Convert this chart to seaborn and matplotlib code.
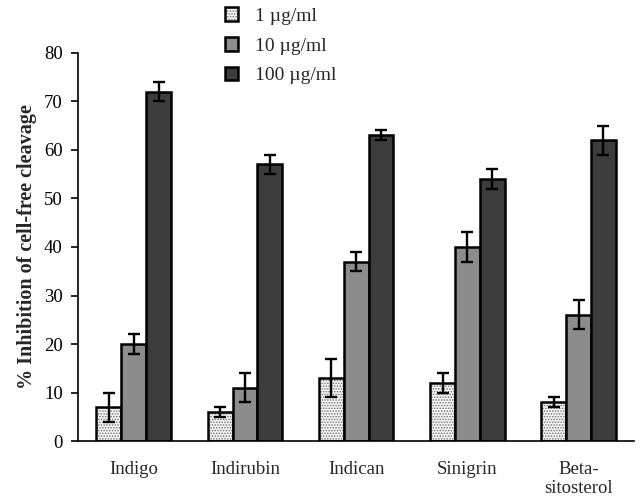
import numpy as np
import pandas as pd
import matplotlib
matplotlib.use("Agg")
import matplotlib.pyplot as plt
import matplotlib.colors as mcolors
from matplotlib.patches import Patch
import seaborn as sns

compounds = ["Indigo", "Indirubin", "Indican", "Sinigrin", "Beta-\nsitosterol"]
doses = ["1 \u00b5g/ml", "10 \u00b5g/ml", "100 \u00b5g/ml"]
inhib_1 = [7, 6, 13, 12, 8]
inhib_10 = [20, 11, 37, 40, 26]
inhib_100 = [72, 57, 63, 54, 62]
err_1 = [3, 1, 4, 2, 1]
err_10 = [2, 3, 2, 3, 3]
err_100 = [2, 2, 1, 2, 3]

values = [inhib_1, inhib_10, inhib_100]
errors = [err_1, err_10, err_100]

df = pd.DataFrame({
    "compound": np.repeat([compounds], 3, axis=0).ravel(),
    "dose": np.repeat(doses, len(compounds)),
    "inhibition": np.concatenate(values),
})

sns.set_style("white")
plt.rcParams["font.family"] = ["Liberation Serif", "DejaVu Serif"]
plt.rcParams["hatch.linewidth"] = 0.7

fills = ["#f4f4f4", "#8c8c8c", "#3c3c3c"]
hatches = ["......", None, None]
dot_color = mcolors.to_rgba("#707070")

fig = plt.figure(figsize=(6.4, 5.03), dpi=100)
ax = fig.add_axes([0.122, 0.123, 0.869, 0.772])

sns.barplot(data=df, x="compound", y="inhibition", hue="dose",
            order=compounds, hue_order=doses, palette=fills,
            width=0.67, gap=0, errorbar=None, legend=False, ax=ax,
            edgecolor="black", linewidth=1.8, saturation=1)

for cont, h, errs in zip(ax.containers, hatches, errors):
    xs, ys = [], []
    for bar in cont:
        if h:
            bar.set_hatch(h)
            bar._hatch_color = dot_color
        xs.append(bar.get_x() + bar.get_width() / 2)
        ys.append(bar.get_height())
    ax.errorbar(xs, ys, yerr=errs, fmt="none", ecolor="black",
                elinewidth=1.7, capsize=4, capthick=1.7, zorder=5)

ax.set_xlim(-0.5, len(compounds) - 0.5)
ax.set_ylim(0, 80)
ax.set_yticks(np.arange(0, 81, 10))
ax.set_xticks(np.arange(len(compounds)))
ax.set_xticklabels(compounds)
ax.tick_params(axis="x", length=0, pad=14, labelsize=13.5)
ax.set_xticks(np.arange(len(compounds)) + 0.5, minor=True)
ax.tick_params(axis="x", which="minor", direction="in", length=5, width=1.2, colors="black")
ax.tick_params(axis="y", direction="out", length=5, width=1.2, labelsize=13.5, pad=6, colors="black", left=True)
ax.set_xlabel("")
ax.set_ylabel("% Inhibition of cell-free cleavage", fontsize=14.5, fontweight="bold", labelpad=5)

for side in ("top", "right"):
    ax.spines[side].set_visible(False)
for side in ("left", "bottom"):
    ax.spines[side].set_color("black")
    ax.spines[side].set_linewidth(1.2)

handles = []
for f, h in zip(fills, hatches):
    p = Patch(facecolor=f, edgecolor="black", linewidth=1.8, hatch=h)
    if h:
        p._hatch_color = dot_color
    handles.append(p)
leg = fig.legend(handles, doses, loc="upper left", bbox_to_anchor=(0.324, 1.02),
                 frameon=False, fontsize=14, handlelength=0.7, handleheight=0.7,
                 handletextpad=0.85, labelspacing=0.62)
for p in leg.get_patches():
    if p.get_hatch():
        p._hatch_color = dot_color

fig.savefig("out.png", dpi=100)
